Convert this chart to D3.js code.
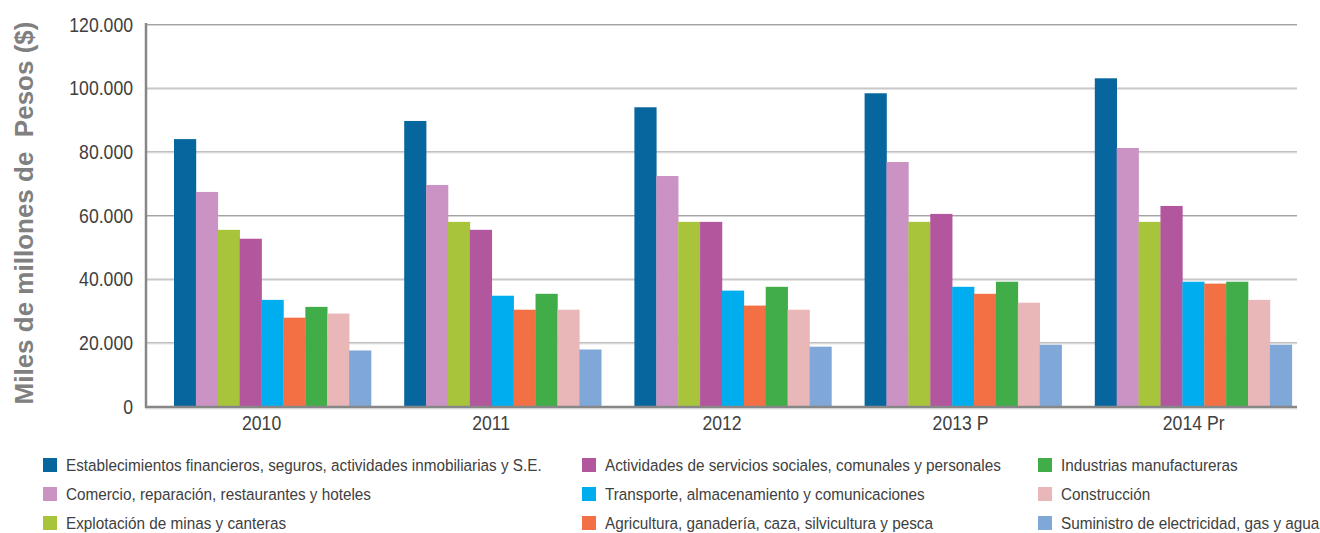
<!DOCTYPE html>
<html>
<head>
<meta charset="utf-8">
<script src="https://cdn.jsdelivr.net/npm/d3@7"></script>
<style>
  body { margin: 0; background: #fff; }
  svg { display: block; }
  .tick-label { font-family: "Liberation Sans", Arial, sans-serif; fill: #404040; }
</style>
</head>
<body>
<script>
// categories (years) and series
var years = ['2010', '2011', '2012', '2013 P', '2014 Pr'];

var series = [
  'Establecimientos financieros, seguros, actividades inmobiliarias y S.E.',
  'Comercio, reparación, restaurantes y hoteles',
  'Explotación de minas y canteras',
  'Actividades de servicios sociales, comunales y personales',
  'Transporte, almacenamiento y comunicaciones',
  'Agricultura, ganadería, caza, silvicultura y pesca',
  'Industrias manufactureras',
  'Construcción',
  'Suministro de electricidad, gas y agua'
];

var colors = ['#08669e', '#cb93c4', '#a7c43a', '#b2579e', '#00aeef', '#f37044', '#41ad49', '#e9b7b8', '#7fa7d8'];

// values in miles de millones de pesos, one array per series (2010..2014)
var financieros   = [84000, 89700, 94000, 98400, 103100];
var comercio      = [67400, 69600, 72400, 76800, 81200];
var minas         = [55500, 58000, 58000, 58000, 58000];
var servicios     = [52700, 55500, 58000, 60500, 63000];
var transporte    = [33500, 34800, 36400, 37600, 39200];
var agricultura   = [27900, 30400, 31700, 35400, 38600];
var industrias    = [31300, 35400, 37600, 39200, 39200];
var construccion  = [29200, 30400, 30400, 32600, 33500];
var suministro    = [17600, 17900, 18800, 19400, 19400];

var yTicks = [0, 20000, 40000, 60000, 80000, 100000, 120000];

var values = [financieros, comercio, minas, servicios, transporte, agricultura, industrias, construccion, suministro];

var width = 1320, height = 533;
var narrow = 0.84; // the source uses a condensed face

var svg = d3.select('body').append('svg')
  .attr('width', width)
  .attr('height', height);

var x0 = d3.scaleBand().domain(years).range([146, 1297]).padding(0);
var x1 = d3.scaleBand().domain(d3.range(series.length)).range([28, 225]).padding(0);
var y = d3.scaleLinear().domain([0, 120000]).range([406.5, 24.5]);

var loc = d3.formatLocale({ decimal: ',', thousands: '.', grouping: [3], currency: ['$', ''] });
var fmt = loc.format(',d');

// gridlines
var grid = svg.append('g');
grid.selectAll('line.g1').data(yTicks.slice(1)).enter().append('line')
  .attr('x1', 146).attr('x2', 1297)
  .attr('y1', function (d) { return y(d); }).attr('y2', function (d) { return y(d); })
  .attr('stroke', '#a3a3a3').attr('stroke-width', 1);
grid.selectAll('line.g2').data(yTicks.slice(1)).enter().append('line')
  .attr('x1', 146).attr('x2', 1297)
  .attr('y1', function (d) { return y(d) + 1; }).attr('y2', function (d) { return y(d) + 1; })
  .attr('stroke', '#d6d6d6').attr('stroke-width', 1);

// bars
var groups = svg.selectAll('.year').data(years).enter().append('g')
  .attr('transform', function (d) { return 'translate(' + x0(d) + ',0)'; });

groups.selectAll('rect').data(function (d, i) {
  return values.map(function (s, k) { return { k: k, v: s[i] }; });
}).enter().append('rect')
  .attr('x', function (d) { return x1(d.k); })
  .attr('width', x1.bandwidth() + 0.3)
  .attr('y', function (d) { return y(d.v); })
  .attr('height', function (d) { return y(0) - y(d.v); })
  .attr('fill', function (d) { return colors[d.k]; });

// axes lines
svg.append('line').attr('x1', 146).attr('x2', 146).attr('y1', 23).attr('y2', 408)
  .attr('stroke', '#878787').attr('stroke-width', 2.5);
svg.append('line').attr('x1', 145).attr('x2', 1297).attr('y1', 407).attr('y2', 407)
  .attr('stroke', '#878787').attr('stroke-width', 2.5);
svg.append('line').attr('x1', 145).attr('x2', 1297).attr('y1', 408.8).attr('y2', 408.8)
  .attr('stroke', '#d0d0d0').attr('stroke-width', 1);

// y axis labels
var yAxis = d3.axisLeft(y).tickValues(yTicks).tickSize(0).tickPadding(13).tickFormat(fmt);
var gy = svg.append('g').attr('transform', 'translate(146,0)').call(yAxis);
gy.select('.domain').remove();
gy.selectAll('text')
  .attr('class', 'tick-label')
  .style('font-size', '21px')
  .attr('x', -13 / narrow)
  .attr('transform', 'scale(' + narrow + ',1)');

// x labels
svg.selectAll('.xlab').data(years).enter().append('text')
  .attr('class', 'tick-label')
  .attr('transform', function (d) { return 'translate(' + (x0(d) + 96) + ',430) scale(' + narrow + ',1)'; })
  .style('font-size', '21px')
  .text(function (d) { return d; });

// y title
svg.append('text')
  .attr('transform', 'translate(33,213) rotate(-90)')
  .attr('text-anchor', 'middle')
  .style('font-family', '"Liberation Sans", Arial, sans-serif')
  .style('font-weight', 'bold')
  .style('font-size', '26px')
  .style('white-space', 'pre')
  .style('fill', '#808080')
  .text('Miles de millones de  Pesos ($)');

// legend
var legX = [43, 582, 1038];
var legend = svg.selectAll('.legend').data(series).enter().append('g')
  .attr('transform', function (d, i) {
    return 'translate(' + legX[Math.floor(i / 3)] + ',' + (458 + (i % 3) * 29) + ')';
  });
legend.append('rect').attr('width', 14).attr('height', 14)
  .attr('fill', function (d, i) { return colors[i]; });
legend.append('text')
  .attr('class', 'tick-label')
  .attr('transform', 'translate(23,13) scale(0.9,1)')
  .style('font-size', '17px')
  .text(function (d) { return d; });
</script>
</body>
</html>
